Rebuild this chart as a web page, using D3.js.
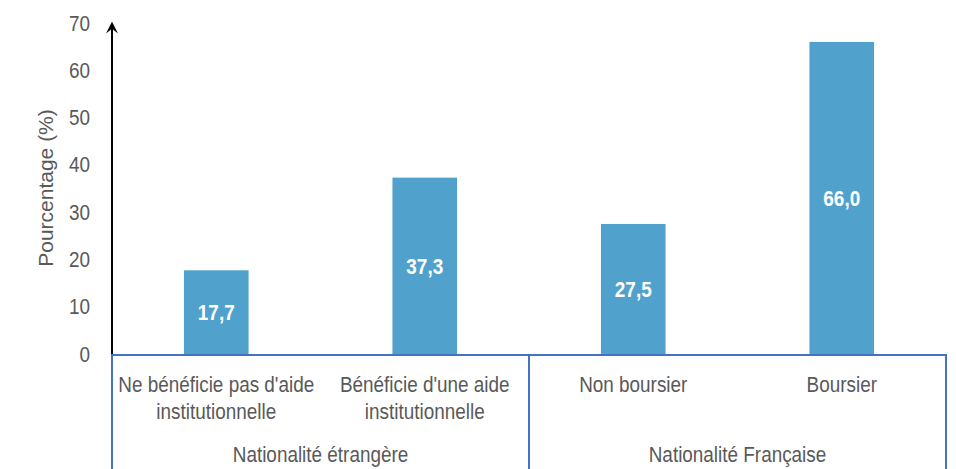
<!DOCTYPE html>
<html>
<head>
<meta charset="utf-8">
<script src="https://cdn.jsdelivr.net/npm/d3@7"></script>
<style>
  body { margin: 0; background: #fff; }
  svg { display: block; font-family: "Liberation Sans", Arial, sans-serif; }
</style>
</head>
<body>
<div class="graph"></div>
<script>
// data
const categories = ['Ne bénéficie pas d\'aide institutionnelle', 'Bénéficie d\'une aide institutionnelle', 'Non boursier', 'Boursier'];
const labelLines = [['Ne bénéficie pas d\'aide', 'institutionnelle'], ['Bénéficie d\'une aide', 'institutionnelle'], ['Non boursier'], ['Boursier']];
const values = [17.7, 37.3, 27.5, 66.0];
const groups = ['Nationalité étrangère', 'Nationalité Française'];
const groupOf = [0, 0, 1, 1];
const yTicks = [0, 10, 20, 30, 40, 50, 60, 70];

const svgDim = { w: 956, h: 469 };
const m = { left: 112, right: 10, top: 23, bottom: 115 };
const y0 = svgDim.h - m.bottom;
const sx = 0.86; // the reference text is horizontally narrow
const grey = '#595959';

const svg = d3.select('.graph').append('svg').attr('width', svgDim.w).attr('height', svgDim.h);

const xScale = d3.scaleBand()
    .domain(categories)
    .range([m.left, svgDim.w - m.right])
    .paddingInner(0.69)
    .paddingOuter(0.345);

const yScale = d3.scaleLinear()
    .domain([0, 70])
    .range([y0, m.top]);

// narrow text helper
const narrow = (sel, x, y, size, anchor) => sel.append('text')
    .attr('transform', `translate(${x},${y}) scale(${sx},1)`)
    .attr('text-anchor', anchor || 'middle')
    .attr('font-size', size);

// bars
svg.append('g').selectAll('rect')
    .data(values)
    .join('rect')
    .attr('x', (d, i) => xScale(categories[i]))
    .attr('y', d => yScale(d))
    .attr('width', xScale.bandwidth())
    .attr('height', d => y0 - yScale(d))
    .attr('fill', '#50a2cd');

// value labels
const vl = svg.append('g');
values.forEach((d, i) => {
    narrow(vl, xScale(categories[i]) + xScale.bandwidth() / 2, (yScale(d) + y0) / 2, 22)
        .attr('dy', '0.36em')
        .attr('fill', '#fff')
        .attr('font-weight', 'bold')
        .text(d.toFixed(1).replace('.', ','));
});

// y axis
const yAxis = d3.axisLeft(yScale).tickValues(yTicks).tickSize(0).tickPadding(22);
const gy = svg.append('g').attr('transform', `translate(${m.left},0)`).call(yAxis);
gy.select('.domain').remove();
gy.selectAll('text')
    .attr('font-size', 22).attr('fill', grey)
    .attr('font-family', '"Liberation Sans", Arial, sans-serif')
    .attr('x', -22 / sx)
    .attr('transform', `scale(${sx},1)`);

svg.append('defs').append('marker')
    .attr('id', 'arrow')
    .attr('viewBox', '0 0 10 10')
    .attr('refX', 8).attr('refY', 5)
    .attr('markerWidth', 6).attr('markerHeight', 6)
    .attr('orient', 'auto')
    .append('path')
    .attr('d', 'M0,0 L10,5 L0,10 L4,5 Z')
    .attr('fill', '#000');

svg.append('line')
    .attr('x1', m.left).attr('x2', m.left)
    .attr('y1', y0).attr('y2', m.top + 1)
    .attr('stroke', '#000').attr('stroke-width', 2)
    .attr('marker-end', 'url(#arrow)');

svg.append('text')
    .attr('transform', `translate(53,188) rotate(-90)`)
    .attr('text-anchor', 'middle')
    .attr('font-size', 21)
    .attr('fill', grey)
    .text('Pourcentage (%)');

// category axis with group boxes
const blue = '#4472c4';
const xLeft = m.left, xRight = svgDim.w - m.right;
const xMid = xScale(categories[2]) - xScale.step() * xScale.paddingInner() / 2;
svg.append('line').attr('x1', xLeft).attr('x2', xRight).attr('y1', y0 + 1).attr('y2', y0 + 1)
    .attr('stroke', blue).attr('stroke-width', 2);
[xLeft, xMid, xRight].forEach(x => {
    svg.append('line').attr('x1', x).attr('x2', x).attr('y1', y0).attr('y2', svgDim.h)
        .attr('stroke', blue).attr('stroke-width', 2);
});

const xl = svg.append('g');
labelLines.forEach((lines, i) => {
    lines.forEach((ln, j) => {
        narrow(xl, xScale(categories[i]) + xScale.bandwidth() / 2, y0 + 38 + j * 27, 22)
            .attr('fill', grey)
            .text(ln);
    });
});

groups.forEach((g, gi) => {
    const idx = groupOf.map((d, i) => d === gi ? i : -1).filter(i => i >= 0);
    const a = xScale(categories[idx[0]]), b = xScale(categories[idx[idx.length - 1]]) + xScale.bandwidth();
    narrow(svg, (a + b) / 2, y0 + 108, 22)
        .attr('fill', grey)
        .text(g);
});
</script>
</body>
</html>
